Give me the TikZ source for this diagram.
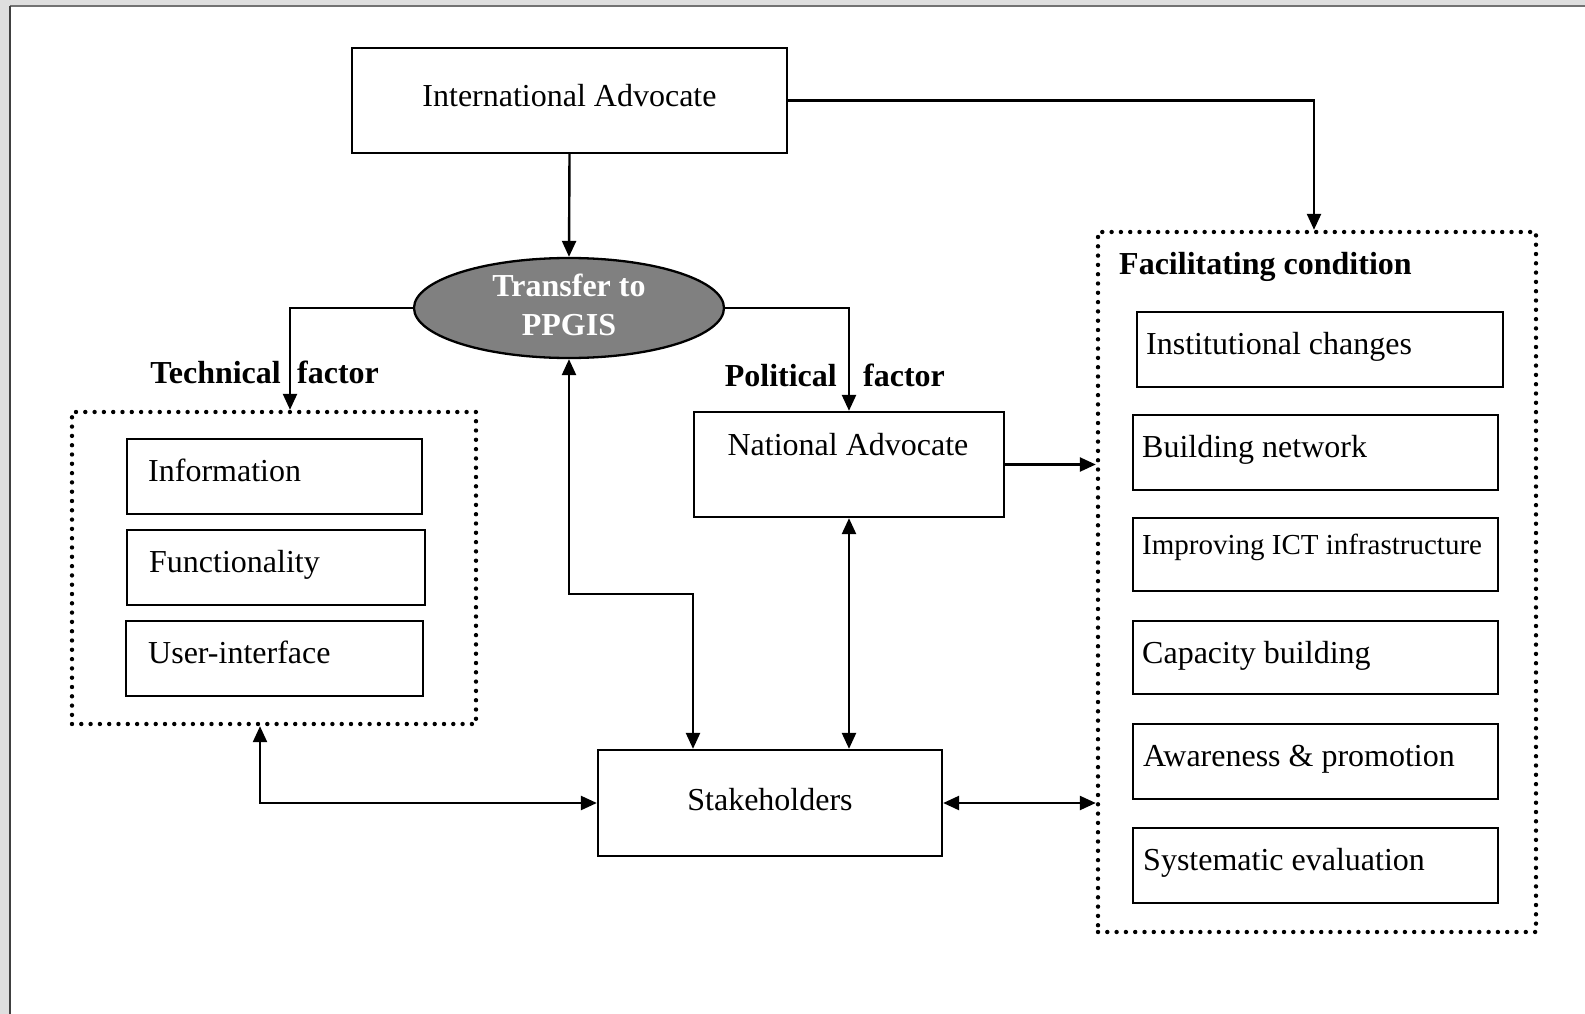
\documentclass[tikz,border=0pt]{standalone}
\usepackage{fontspec}
\setmainfont{Liberation Serif}
\usetikzlibrary{arrows.meta,shapes.geometric,calc}
\begin{document}
\begin{tikzpicture}[x=1pt,y=-1pt,
  box/.style={draw,line width=2.3pt,inner sep=0pt,rectangle},
  dotbox/.style={draw,line width=4.4pt,dash pattern=on 0pt off 9.3pt,line cap=round,inner sep=0pt,rectangle},
  arr/.style={line width=2.4pt,-{Triangle[length=16pt,width=14pt]}},
  darr/.style={line width=2.4pt,{Triangle[length=16pt,width=14pt]}-{Triangle[length=16pt,width=14pt]}},
  txt/.style={font=\fontsize{32}{38}\selectfont,inner sep=0pt,anchor=base west},
  ctxt/.style={font=\fontsize{32}{38}\selectfont,inner sep=0pt,anchor=base},
  btxt/.style={font=\fontsize{32}{38}\selectfont\bfseries,inner sep=0pt},
]
\useasboundingbox (0,0) rectangle (1585,1014);
% frame
\fill[gray!25] (0,0) rectangle (1585,1014);
\fill[white] (10,6) rectangle (1585,1014);
\draw[line width=1.5pt,black!55] (10,6) -- (1585,6);
\draw[line width=1.8pt,black!75] (10,6) -- (10,1014);

% nodes
\node[box,minimum width=435,minimum height=105] (ia) at (569.5,100.5) {};
\node[ctxt] (iat) at (569.5,107) {International Advocate};

\node[draw,line width=2.3pt,ellipse,fill=black!50,minimum width=310,minimum height=100,inner sep=0pt] (ell) at (569,308) {};
\node[btxt,text=white,align=center,font=\fontsize{32}{39}\selectfont\bfseries] (ellt) at (569,305) {Transfer to\\PPGIS};

\node[dotbox,minimum width=404,minimum height=312] (tech) at (274,568) {};
\node[box,minimum width=295,minimum height=75] (info) at (274.5,476.5) {};
\node[txt] (infot) at (148,481) {Information};
\node[box,minimum width=298,minimum height=75] (func) at (276,567.5) {};
\node[txt] (funct) at (149,572) {Functionality};
\node[box,minimum width=297,minimum height=75] (ui) at (274.5,658.5) {};
\node[txt] (uit) at (148,663) {User-interface};

\node[btxt,anchor=base east] (techl) at (281,383) {Technical};
\node[btxt,anchor=base west] (techr) at (297,383) {factor};
\node[btxt,anchor=base east] (poll) at (837,386) {Political};
\node[btxt,anchor=base west] (polr) at (863,386) {factor};

\node[box,minimum width=310,minimum height=105] (nat) at (849,464.5) {};
\node[ctxt] (natt) at (848,455) {National Advocate};

\node[box,minimum width=344,minimum height=106] (stake) at (770,803) {};
\node[ctxt] (staket) at (770,810) {Stakeholders};

\node[dotbox,minimum width=438,minimum height=700] (fac) at (1317,582) {};
\node[btxt,anchor=base west] (fact) at (1119,274) {Facilitating condition};
\node[box,minimum width=366,minimum height=75] (inst) at (1320,349.5) {};
\node[txt] (instt) at (1146,354) {Institutional changes};
\node[box,minimum width=365,minimum height=75] (build) at (1315.5,452.5) {};
\node[txt] (buildt) at (1142,457) {Building network};
\node[box,minimum width=365,minimum height=73] (ict) at (1315.5,554.5) {};
\node[txt,font=\fontsize{29}{34}\selectfont] (ictt) at (1142,554) {Improving ICT infrastructure};
\node[box,minimum width=365,minimum height=73] (cap) at (1315.5,657.5) {};
\node[txt] (capt) at (1142,663) {Capacity building};
\node[box,minimum width=365,minimum height=75] (aware) at (1315.5,761.5) {};
\node[txt] (awaret) at (1143,766) {Awareness \& promotion};
\node[box,minimum width=365,minimum height=75] (syst) at (1315.5,865.5) {};
\node[txt] (systt) at (1143,870) {Systematic evaluation};

% connectors
\draw[arr] (ia.south) -- (ell.north);
\draw[arr] (ia.east) -| ([xshift=-3pt]fac.north);
\draw[arr] (ell.west) -| ([xshift=16pt]tech.north);
\draw[arr] (ell.east) -| (nat.north);
\draw[arr] (nat.east) -- (nat.east -| fac.west);
\draw[darr] (nat.south) -- (nat.south |- stake.north);
\coordinate (m) at (693,594);
\draw[darr] (ell.south) |- (m) -- (m |- stake.north);
\draw[darr] ([xshift=-14pt]tech.south) |- (stake.west);
\draw[darr] (stake.east) -- (stake.east -| fac.west);
\end{tikzpicture}
\end{document}
